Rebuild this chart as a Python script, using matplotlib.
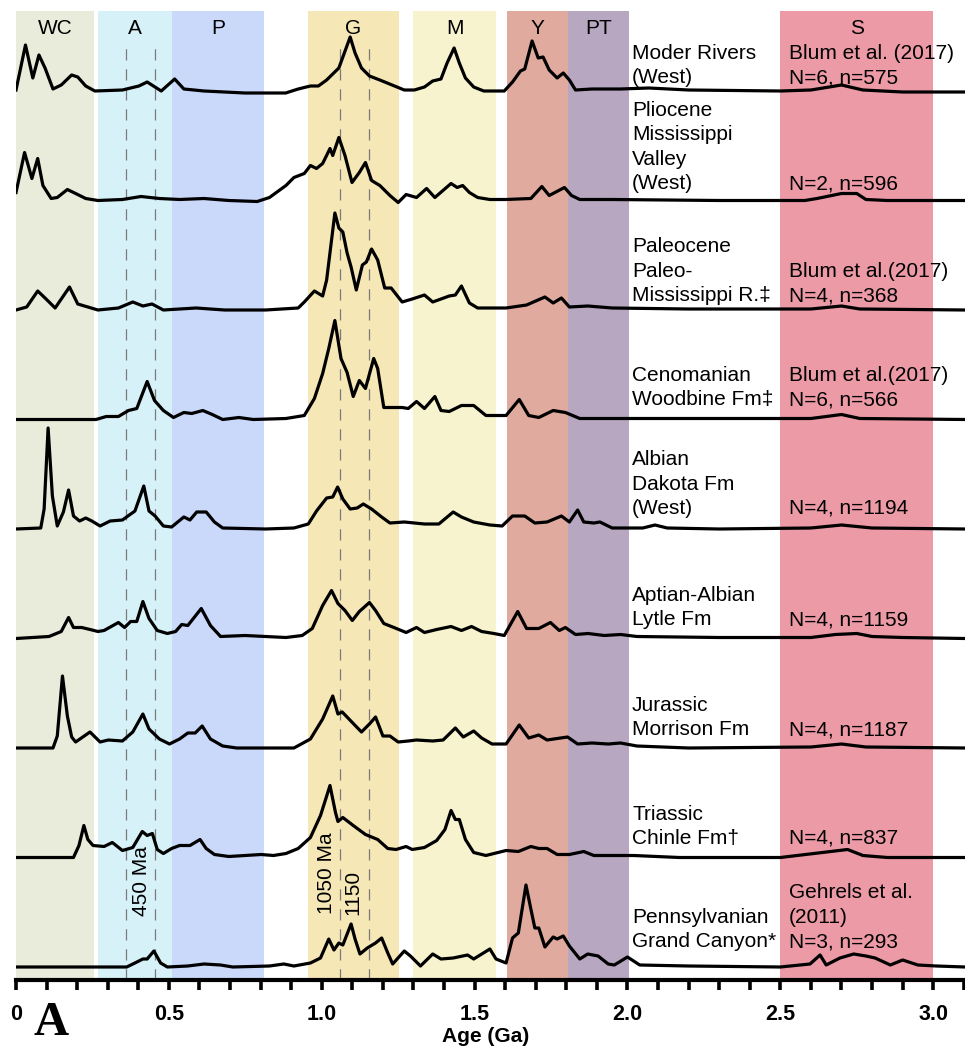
import matplotlib.pyplot as plt
import numpy as np

plt.rcParams['font.family'] = ['Liberation Sans', 'DejaVu Sans']

# age provinces (Ga) shaded behind the curves
band_names = ['WC', 'A', 'P', 'G', 'M', 'Y', 'PT', 'S']
band_start = [0.0, 0.268, 0.51, 0.955, 1.30, 1.606, 1.805, 2.5]
band_end = [0.255, 0.51, 0.81, 1.253, 1.57, 1.805, 2.005, 3.0]
band_colors = ['#e9ecda', '#d6f2f8', '#cad8fa', '#f6e7b6',
               '#f8f3cf', '#e0aa9e', '#b7a7c0', '#eb9aa6']

# dashed reference ages (Ga)
ref_ages = [0.36, 0.455, 1.06, 1.155]

# relative probability curves, top to bottom
modern_age = [0.0, 0.031, 0.055, 0.075, 0.095, 0.121, 0.148, 0.182, 0.202, 0.228,
              0.258, 0.348, 0.402, 0.429, 0.475, 0.519, 0.549, 0.615, 0.749, 0.882,
              0.923, 0.963, 0.989, 1.016, 1.056, 1.093, 1.109, 1.13, 1.156, 1.19,
              1.23, 1.27, 1.303, 1.336, 1.363, 1.39, 1.41, 1.433, 1.45, 1.47,
              1.497, 1.53, 1.597, 1.624, 1.65, 1.664, 1.688, 1.708, 1.724, 1.744,
              1.77, 1.79, 1.81, 1.83, 1.884, 1.924, 1.977, 2.07, 2.2, 2.5,
              2.6, 2.7, 2.77, 2.9, 3.104]
modern_p = [1, 46, 13, 36, 23, 2, 6, 16, 14, 5,
            0, 1, 5, 9, 0, 12, 2, 0, -2, -2,
            2, 5, 5, 11, 23, 54, 38, 23, 15, 11,
            6, 1, 1, 4, 10, 12, 28, 43, 28, 13,
            4, 0, 0, 9, 20, 22, 50, 33, 34, 21,
            13, 18, 11, 1, 2, 2, 2, 3, 1, 0,
            1, 6, 1, -1, -1]

plio_age = [0.0, 0.028, 0.052, 0.071, 0.088, 0.115, 0.135, 0.168, 0.195, 0.228,
            0.268, 0.348, 0.409, 0.469, 0.535, 0.615, 0.696, 0.789, 0.829, 0.883,
            0.909, 0.943, 0.963, 0.983, 1.003, 1.027, 1.036, 1.056, 1.076, 1.099,
            1.123, 1.143, 1.163, 1.19, 1.223, 1.25, 1.276, 1.31, 1.343, 1.37,
            1.423, 1.443, 1.461, 1.483, 1.51, 1.55, 1.603, 1.684, 1.72, 1.744,
            1.794, 1.817, 1.844, 1.95, 2.3, 2.58, 2.62, 2.7, 2.75, 2.78,
            2.85, 3.104]
plio_p = [8, 48, 22, 42, 15, 2, 3, 11, 7, 2,
          0, 1, 4, 2, 1, 2, 0, -1, 3, 15,
          23, 27, 35, 32, 37, 52, 45, 63, 45, 18,
          28, 38, 20, 15, 5, -2, 6, 3, 12, 3,
          17, 13, 15, 8, 3, 1, 1, 2, 14, 5,
          13, 5, 1, 1, 0, 0, 2, 7, 7, 1,
          0, 0]

paleo_age = [0.0, 0.035, 0.071, 0.095, 0.128, 0.175, 0.202, 0.235, 0.268, 0.335,
             0.382, 0.415, 0.445, 0.482, 0.589, 0.682, 0.816, 0.923, 0.943, 0.976,
             1.003, 1.016, 1.043, 1.056, 1.069, 1.083, 1.096, 1.113, 1.133, 1.146,
             1.163, 1.183, 1.206, 1.227, 1.263, 1.296, 1.336, 1.363, 1.417, 1.437,
             1.457, 1.483, 1.51, 1.603, 1.67, 1.73, 1.757, 1.784, 1.81, 1.87,
             1.95, 2.2, 2.6, 2.7, 2.76, 3.104]
paleo_p = [0, 3, 19, 12, 2, 23, 6, 3, 0, 2,
           8, 4, 6, 0, 2, 0, 0, 2, 8, 19,
           14, 30, 97, 82, 78, 57, 43, 20, 45, 48,
           61, 50, 22, 22, 8, 11, 15, 8, 14, 15,
           24, 7, 2, 2, 5, 13, 7, 12, 3, 4,
           2, 1, 1, 4, 1, 0]

ceno_age = [0.0, 0.262, 0.295, 0.335, 0.368, 0.395, 0.429, 0.453, 0.482, 0.515,
            0.549, 0.575, 0.611, 0.642, 0.676, 0.729, 0.776, 0.883, 0.943, 0.976,
            1.003, 1.023, 1.043, 1.063, 1.083, 1.103, 1.123, 1.143, 1.17, 1.183,
            1.203, 1.23, 1.263, 1.283, 1.31, 1.336, 1.37, 1.39, 1.417, 1.457,
            1.497, 1.537, 1.603, 1.646, 1.677, 1.71, 1.757, 1.797, 1.844, 1.924,
            2.1, 2.6, 2.7, 2.76, 3.104]
ceno_p = [0, 0, 3, 3, 9, 11, 38, 19, 9, 2,
          7, 6, 9, 5, 0, 2, 0, 1, 4, 21,
          46, 71, 99, 61, 47, 23, 39, 31, 61, 51,
          12, 12, 12, 11, 18, 11, 23, 9, 8, 14,
          14, 4, 4, 20, 4, 2, 9, 7, 1, 1,
          1, 1, 5, 1, 0]

albian_age = [0.0, 0.081, 0.092, 0.105, 0.119, 0.135, 0.155, 0.172, 0.188, 0.208,
              0.228, 0.248, 0.275, 0.308, 0.348, 0.389, 0.418, 0.435, 0.455, 0.482,
              0.509, 0.549, 0.569, 0.591, 0.622, 0.649, 0.676, 0.816, 0.909, 0.956,
              0.983, 1.016, 1.036, 1.052, 1.069, 1.093, 1.116, 1.136, 1.163, 1.196,
              1.223, 1.27, 1.336, 1.383, 1.43, 1.457, 1.497, 1.55, 1.59, 1.624,
              1.664, 1.697, 1.737, 1.784, 1.81, 1.837, 1.857, 1.89, 1.91, 1.95,
              2.05, 2.09, 2.13, 2.3, 2.6, 2.7, 2.8, 3.104]
albian_p = [0, 1, 20, 101, 33, 3, 17, 39, 13, 8,
            11, 8, 3, 8, 9, 18, 43, 18, 13, 3,
            2, 12, 9, 17, 17, 7, 1, 0, 1, 5,
            18, 31, 32, 42, 30, 20, 21, 25, 20, 12,
            6, 7, 5, 5, 17, 12, 7, 4, 3, 13,
            13, 6, 7, 13, 7, 19, 7, 6, 7, 1,
            1, 4, 1, 0, 1, 4, 1, 0]

aptian_age = [0.0, 0.108, 0.148, 0.172, 0.188, 0.215, 0.242, 0.268, 0.288, 0.335,
              0.355, 0.375, 0.395, 0.415, 0.435, 0.462, 0.495, 0.522, 0.542, 0.562,
              0.606, 0.636, 0.669, 0.749, 0.883, 0.936, 0.969, 1.003, 1.032, 1.053,
              1.076, 1.1, 1.123, 1.156, 1.176, 1.203, 1.236, 1.276, 1.31, 1.336,
              1.376, 1.423, 1.457, 1.49, 1.523, 1.563, 1.597, 1.641, 1.67, 1.71,
              1.748, 1.777, 1.797, 1.83, 1.871, 1.924, 1.977, 2.031, 2.3, 2.6,
              2.68, 2.75, 2.8, 2.9, 3.104]
aptian_p = [0, 2, 7, 21, 11, 11, 9, 7, 8, 16,
            11, 17, 17, 37, 20, 8, 5, 7, 14, 13,
            30, 13, 2, 3, 1, 3, 10, 33, 48, 35,
            28, 18, 27, 36, 28, 15, 11, 6, 11, 6,
            9, 12, 8, 12, 7, 5, 3, 27, 10, 10,
            16, 8, 11, 4, 5, 3, 4, 2, 1, 1,
            4, 5, 2, 1, 0]

jura_age = [0.0, 0.121, 0.135, 0.152, 0.168, 0.182, 0.195, 0.242, 0.275, 0.302,
            0.348, 0.382, 0.415, 0.435, 0.469, 0.502, 0.535, 0.562, 0.586, 0.609,
            0.636, 0.676, 0.722, 0.909, 0.963, 1.003, 1.036, 1.053, 1.067, 1.089,
            1.13, 1.156, 1.176, 1.2, 1.223, 1.25, 1.283, 1.31, 1.363, 1.397,
            1.437, 1.463, 1.497, 1.523, 1.557, 1.603, 1.646, 1.677, 1.71, 1.737,
            1.804, 1.837, 1.884, 1.937, 1.977, 2.031, 2.2, 2.6, 2.7, 2.78,
            3.104]
jura_p = [0, 0, 12, 72, 32, 11, 6, 16, 6, 8,
          7, 16, 34, 19, 9, 4, 9, 15, 15, 22,
          9, 2, 0, 0, 9, 29, 52, 34, 36, 29,
          16, 24, 31, 12, 12, 6, 7, 8, 7, 8,
          20, 11, 17, 10, 4, 4, 23, 10, 13, 8,
          11, 4, 5, 4, 5, 2, 0, 1, 4, 1,
          0]

trias_age = [0.0, 0.188, 0.206, 0.222, 0.235, 0.252, 0.288, 0.315, 0.348, 0.382,
             0.413, 0.429, 0.446, 0.462, 0.482, 0.509, 0.535, 0.569, 0.602, 0.622,
             0.649, 0.696, 0.802, 0.842, 0.883, 0.923, 0.963, 0.996, 1.027, 1.045,
             1.053, 1.069, 1.103, 1.143, 1.183, 1.216, 1.243, 1.276, 1.296, 1.336,
             1.376, 1.403, 1.423, 1.437, 1.45, 1.47, 1.497, 1.537, 1.603, 1.643,
             1.684, 1.71, 1.737, 1.77, 1.81, 1.857, 1.89, 2.02, 2.17, 2.5,
             2.61, 2.72, 2.77, 2.85, 3.104]
trias_p = [0, 0, 12, 32, 18, 12, 11, 15, 7, 10,
           26, 22, 24, 8, 4, 9, 12, 12, 18, 9,
           3, 1, 3, 2, 4, 9, 20, 42, 72, 45,
           36, 40, 32, 23, 18, 9, 8, 11, 8, 10,
           17, 28, 47, 38, 38, 18, 5, 2, 7, 6,
           11, 9, 9, 3, 3, 6, 2, 2, 0, 0,
           4, 8, 2, 0, 0]

penn_age = [0.0, 0.362, 0.389, 0.415, 0.429, 0.451, 0.473, 0.495, 0.562, 0.615,
            0.669, 0.709, 0.829, 0.876, 0.909, 0.963, 0.996, 1.023, 1.04, 1.056,
            1.069, 1.096, 1.109, 1.125, 1.149, 1.176, 1.196, 1.216, 1.232, 1.27,
            1.29, 1.323, 1.363, 1.39, 1.43, 1.477, 1.497, 1.55, 1.57, 1.603,
            1.624, 1.643, 1.668, 1.684, 1.697, 1.71, 1.73, 1.757, 1.77, 1.79,
            1.81, 1.844, 1.87, 1.904, 1.937, 1.957, 2.0, 2.04, 2.2, 2.5,
            2.597, 2.63, 2.65, 2.695, 2.74, 2.78, 2.81, 2.86, 2.9, 2.95,
            3.01, 3.104]
penn_p = [0, 0, 4, 8, 8, 16, 4, 0, 1, 3,
          2, 0, 1, 3, 1, 4, 9, 28, 17, 24,
          22, 43, 28, 13, 19, 24, 29, 14, 3, 16,
          11, 1, 13, 8, 9, 12, 8, 18, 8, 4,
          29, 34, 82, 58, 39, 39, 20, 30, 28, 31,
          21, 8, 13, 11, 3, 2, 10, 2, 1, 0,
          3, 12, 2, 9, 13, 11, 9, 2, 7, 2,
          1, 0]

curves = [(modern_age, modern_p), (plio_age, plio_p), (paleo_age, paleo_p),
          (ceno_age, ceno_p), (albian_age, albian_p), (aptian_age, aptian_p),
          (jura_age, jura_p), (trias_age, trias_p), (penn_age, penn_p)]

unit_names = ['Moder Rivers\n(West)',
              'Pliocene\nMississippi\nValley\n(West)',
              'Paleocene\nPaleo-\nMississippi R.\u2021',
              'Cenomanian\nWoodbine Fm\u2021',
              'Albian\nDakota Fm\n(West)',
              'Aptian-Albian\nLytle Fm',
              'Jurassic\nMorrison Fm',
              'Triassic\nChinle Fm\u2020',
              'Pennsylvanian\nGrand Canyon*']
unit_refs = ['Blum et al. (2017)\nN=6, n=575',
             'N=2, n=596',
             'Blum et al.(2017)\nN=4, n=368',
             'Blum et al.(2017)\nN=6, n=566',
             'N=4, n=1194',
             'N=4, n=1159',
             'N=4, n=1187',
             'N=4, n=837',
             'Gehrels et al.\n(2011)\nN=3, n=293']

# layout (pixel-like units on the y axis)
W, H = 965, 1057
row_gap = 109.5
top_base = 889
text_lift = [16, 19.5, 17, 22.5, 23, 21.5, 21, 21.5, 28]
FS = 15

fig = plt.figure(figsize=(W / 100, H / 100), dpi=100)
ax = fig.add_axes([16 / W, 77 / H, 949 / W, 969 / H])
ax.set_xlim(0, 3.104)
ax.set_ylim(0, 969)

for name, x0, x1, c in zip(band_names, band_start, band_end, band_colors):
    ax.axvspan(x0, x1, color=c, lw=0, zorder=0)
    ax.text((x0 + x1) / 2, 951, name, ha='center', va='center', fontsize=FS)

ax.vlines(ref_ages, 0, 935, colors='#7a7a7a', lw=0.9,
          linestyles=(0, (9, 7)), zorder=1)

for i, (age, p) in enumerate(curves):
    base = top_base - row_gap * i
    ax.plot(age, base + np.array(p), color='black', lw=2.3,
            solid_joinstyle='round', zorder=3)
    ty = base + text_lift[i] - 12
    ax.text(2.015, ty, unit_names[i], ha='left', va='bottom', fontsize=FS,
            linespacing=1.36, zorder=4)
    ax.text(2.529, ty, unit_refs[i], ha='left', va='bottom', fontsize=FS,
            linespacing=1.36, zorder=4)

# rotated reference-age labels
ax.text(0.409, 99, '450 Ma', rotation=90, ha='center', va='center', fontsize=FS, zorder=4)
ax.text(1.014, 107, '1050 Ma', rotation=90, ha='center', va='center', fontsize=FS, zorder=4)
ax.text(1.102, 88, '1150', rotation=90, ha='center', va='center', fontsize=FS, zorder=4)

# axis styling
for s in ['top', 'left', 'right']:
    ax.spines[s].set_visible(False)
ax.spines['bottom'].set_linewidth(3)
ax.set_yticks([])
ax.set_xticks(np.arange(0, 3.01, 0.5))
ax.set_xticklabels(['0', '0.5', '1.0', '1.5', '2.0', '2.5', '3.0'],
                   fontweight='bold', fontsize=15.5)
ax.set_xticks(np.arange(0, 3.11, 0.1), minor=True)
ax.tick_params(axis='x', which='both', direction='out', length=7, width=2.6, pad=10)

fig.text(486 / W, 1 - 1037 / H, 'Age (Ga)', ha='center', va='center',
         fontsize=15, fontweight='bold')
fig.text(51 / W, 1 - 1023 / H, 'A', ha='center', va='center', fontsize=35,
         fontweight='bold', family='Liberation Serif')

fig.savefig('out.png', dpi=100)
